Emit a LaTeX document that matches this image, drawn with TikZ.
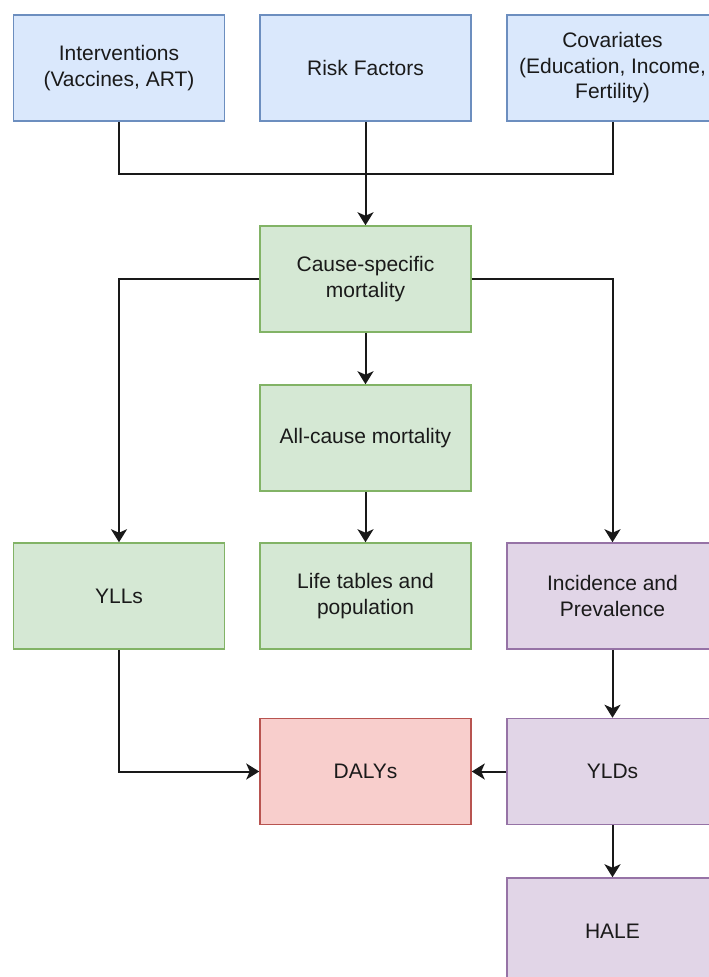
\documentclass[tikz,border=0pt]{standalone}
\usepackage{fontspec}
\setmainfont{Liberation Sans}
\usetikzlibrary{arrows.meta}
\definecolor{bluefill}{HTML}{DAE8FC}
\definecolor{bluedraw}{HTML}{6C8EBF}
\definecolor{greenfill}{HTML}{D5E8D4}
\definecolor{greendraw}{HTML}{82B366}
\definecolor{redfill}{HTML}{F8CECC}
\definecolor{reddraw}{HTML}{B85450}
\definecolor{purplefill}{HTML}{E1D5E7}
\definecolor{purpledraw}{HTML}{9673A6}
\definecolor{txt}{HTML}{1A1A1A}
\tikzset{
  box/.style={rectangle, minimum width=211pt, minimum height=106pt, line width=1.5pt,
    align=center, inner sep=0pt, text=txt, font=\fontsize{21}{25.5}\selectfont},
  bluebox/.style={box, fill=bluefill, draw=bluedraw},
  greenbox/.style={box, fill=greenfill, draw=greendraw},
  redbox/.style={box, fill=redfill, draw=reddraw},
  purplebox/.style={box, fill=purplefill, draw=purpledraw},
  conn/.style={line width=2pt, draw=black!90},
  arr/.style={conn, -{Stealth[length=13pt, width=16pt, inset=3.5pt]}}
}
\begin{document}
\begin{tikzpicture}[x=1pt, y=-1pt]
\useasboundingbox (0,0) rectangle (709,977);
\clip (0,0) rectangle (709,977);
\fill[white] (0,0) rectangle (709,977);
% top row
\node[bluebox] (int) at (119,68) {Interventions\\(Vaccines, ART)};
\node[bluebox] (rf) at (365.5,68) {Risk Factors};
\node[bluebox] (cov) at (612.5,68) {Covariates\\(Education, Income,\\Fertility)};
% middle
\node[greenbox] (cause) at (365.5,279) {Cause-specific\\mortality};
\node[greenbox] (allc) at (365.5,438) {All-cause mortality};
\node[greenbox] (ylls) at (119,596) {YLLs};
\node[greenbox] (life) at (365.5,596) {Life tables and\\population};
\node[purplebox] (inc) at (612.5,596) {Incidence and\\Prevalence};
\node[redbox] (daly) at (365.5,771.5) {DALYs};
\node[purplebox] (yld) at (612.5,771.5) {YLDs};
\node[purplebox] (hale) at (612.5,931) {HALE};
% connectors
\coordinate (j) at (365.5,174);
\draw[conn] (int.south) -- (int.south |- j) -- (cov.south |- j) -- (cov.south);
\draw[arr] (rf.south) -- (cause.north);
\draw[arr] (cause.west) -| (ylls.north);
\draw[arr] (cause.east) -| (inc.north);
\draw[arr] (cause.south) -- (allc.north);
\draw[arr] (allc.south) -- (life.north);
\draw[arr] (ylls.south) |- (daly.west);
\draw[arr] (yld.west) -- (daly.east);
\draw[arr] (inc.south) -- (yld.north);
\draw[arr] (yld.south) -- (hale.north);
\end{tikzpicture}
\end{document}
